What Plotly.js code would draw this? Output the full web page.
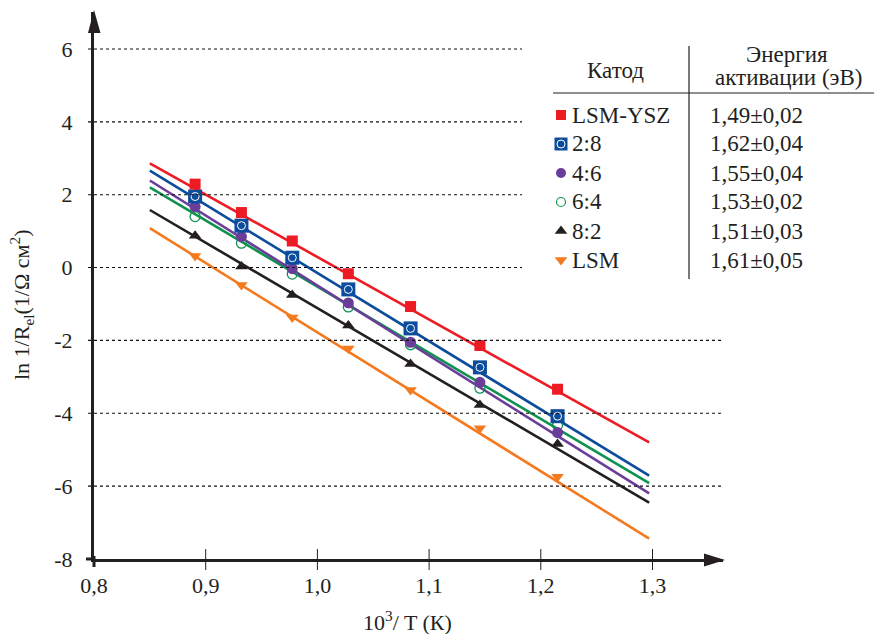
<!DOCTYPE html>
<html>
<head>
<meta charset="utf-8">
<script src="https://cdn.plot.ly/plotly-3.0.1.min.js"></script>
<style>
html,body{margin:0;padding:0;background:#fff;}
#chart{width:874px;height:634px;}
</style>
</head>
<body>
<div id="chart"></div>
<script>
// ---------- data ----------
var invT = [0.8905, 0.932, 0.9775, 1.0277, 1.0834, 1.1455, 1.215];
var lnLSMYSZ = [2.29, 1.51, 0.73, -0.17, -1.07, -2.14, -3.34];
var ln28 = [1.95, 1.15, 0.27, -0.60, -1.67, -2.74, -4.08];
var ln46 = [1.67, 0.85, -0.03, -0.97, -2.05, -3.15, -4.53];
var ln64 = [1.40, 0.67, -0.18, -1.08, -2.12, -3.31, -4.33];
var ln82 = [0.87, 0.03, -0.75, -1.59, -2.65, -3.77, -4.84];
var lnLSM = [0.32, -0.48, -1.37, -2.22, -3.36, -4.41, -5.74];

var fitX = [0.85, 1.297];
var fitLSMYSZ = [2.86, -4.80];
var fit28 = [2.66, -5.71];
var fit46 = [2.39, -6.20];
var fit64 = [2.20, -5.92];
var fit82 = [1.58, -6.45];
var fitLSM = [1.08, -7.44];

var cathodes = ['LSM-YSZ', '2:8', '4:6', '6:4', '8:2', 'LSM'];
var activation = ['1,49±0,02', '1,62±0,04', '1,55±0,04', '1,53±0,02', '1,51±0,03', '1,61±0,05'];

var xTickVals = [0.8, 0.9, 1.0, 1.1, 1.2, 1.3];
var xTickText = ['0,8', '0,9', '1,0', '1,1', '1,2', '1,3'];
var yTickVals = [-8, -6, -4, -2, 0, 2, 4, 6];
var yTickText = ['-8', '-6', '-4', '-2', '0', '2', '4', '6'];

// ---------- styles ----------
var RED = '#ed1c24', BLUE = '#0b4c9c', PURPLE = '#6a3d9a', GREEN = '#0f9150', BLACK = '#231f20', ORANGE = '#f47a20';
var SERIF = 'Liberation Serif';

var L = 94, R = 723, T = 12, B = 559;   // plot area in px
var XMAX = 0.8 + (R - L) / 1117;
var YMAX = -8 + (B - T) / 36.43;
function px(p) { return (p - L) / (R - L); }
function py(p) { return (B - p) / (B - T); }
function dx(v) { return (v - 0.8) / (XMAX - 0.8); }

var series = [
  {y: ln64, fit: fit64, color: GREEN, symbol: 'circle-open', size: 10, lw: 1.3},
  {y: ln46, fit: fit46, color: PURPLE, symbol: 'circle', size: 11, lw: 0},
  {y: ln28, fit: fit28, color: BLUE, symbol: 'square', size: 14, lw: 0},
  {y: lnLSMYSZ, fit: fitLSMYSZ, color: RED, symbol: 'square', size: 11, lw: 0},
  {y: ln82, fit: fit82, color: BLACK, symbol: 'triangle-up', size: 11, lw: 0},
  {y: lnLSM, fit: fitLSM, color: ORANGE, symbol: 'triangle-down', size: 11, lw: 0}
];

var traces = [];
series.forEach(function (s) {
  traces.push({x: fitX, y: s.fit, mode: 'lines', line: {color: s.color, width: 2.6}, hoverinfo: 'skip', showlegend: false});
});
series.forEach(function (s) {
  traces.push({x: invT, y: s.y, mode: 'markers', showlegend: false, cliponaxis: false,
    marker: {symbol: s.symbol, size: s.size, color: s.color, line: {color: s.color, width: s.lw}}});
  if (s.y === ln28) {
    traces.push({x: invT, y: s.y, mode: 'markers', showlegend: false, cliponaxis: false,
      marker: {symbol: 'circle-open', size: 8, color: '#ffffff', line: {color: '#ffffff', width: 1}}});
  }
});

// legend-table markers (pixel axes overlay)
var tblStyles = [
  {color: RED, symbol: 'square', size: 10, lw: 0},
  {color: BLUE, symbol: 'square', size: 13, lw: 0},
  {color: PURPLE, symbol: 'circle', size: 10, lw: 0},
  {color: GREEN, symbol: 'circle-open', size: 9, lw: 1.2},
  {color: BLACK, symbol: 'triangle-up', size: 11, lw: 0},
  {color: ORANGE, symbol: 'triangle-down', size: 11, lw: 0}
];
var rowY0 = 115, rowH = 29, mkX = 561, lblX = 570, valX = 708;
cathodes.forEach(function (c, i) {
  var st = tblStyles[i];
  traces.push({x: [mkX], y: [rowY0 + i * rowH], xaxis: 'x2', yaxis: 'y2', mode: 'markers', showlegend: false, cliponaxis: false,
    marker: {symbol: st.symbol, size: st.size, color: st.color, line: {color: st.color, width: st.lw}}});
  if (i === 1) {
    traces.push({x: [mkX], y: [rowY0 + i * rowH], xaxis: 'x2', yaxis: 'y2', mode: 'markers', showlegend: false, cliponaxis: false,
      marker: {symbol: 'circle-open', size: 8, color: '#fff', line: {color: '#fff', width: 1}}});
  }
});

var shapes = [];
var annotations = [];
yTickVals.forEach(function (v) {
  if (v === -8) {
    shapes.push({type: 'line', xref: 'paper', yref: 'paper', x0: px(86), x1: px(95), y0: 0, y1: 0, line: {color: BLACK, width: 3}});
    return;
  }
  var end = v >= 0 ? 522 : 722;
  shapes.push({type: 'line', xref: 'paper', yref: 'y', x0: px(88), x1: px(end), y0: v, y1: v,
    line: {color: '#111', width: 1.1, dash: 'dot'}});
});
xTickVals.forEach(function (v, i) {
  shapes.push({type: 'line', xref: 'paper', yref: 'paper', x0: dx(v), x1: dx(v),
    y0: py(i === 0 ? 567 : 570), y1: py(i === 0 ? 556 : 549), line: {color: BLACK, width: i === 0 ? 3 : 1}});
});
shapes.push({type: 'path', xref: 'paper', yref: 'paper', fillcolor: BLACK, line: {width: 0},
  path: 'M ' + px(94) + ' ' + py(10) + ' L ' + px(88) + ' ' + py(33) + ' L ' + px(100.5) + ' ' + py(33) + ' Z'});
shapes.push({type: 'path', xref: 'paper', yref: 'paper', fillcolor: BLACK, line: {width: 0},
  path: 'M ' + px(725) + ' ' + py(560) + ' L ' + px(704) + ' ' + py(553.5) + ' L ' + px(704) + ' ' + py(566.5) + ' Z'});
shapes.push({type: 'line', xref: 'paper', yref: 'paper', x0: px(689), x1: px(689), y0: py(46), y1: py(279), line: {color: BLACK, width: 1.2}});
shapes.push({type: 'line', xref: 'paper', yref: 'paper', x0: px(553), x1: px(874), y0: py(93), y1: py(93), line: {color: BLACK, width: 1.2}});

function ann(text, x, y, size, xanchor, extra) {
  var a = {text: text, xref: 'paper', yref: 'paper', x: px(x), y: py(y), xanchor: xanchor || 'center', yanchor: 'middle',
    showarrow: false, font: {family: SERIF, size: size, color: BLACK}};
  if (extra) for (var k in extra) a[k] = extra[k];
  annotations.push(a);
}
ann('Катод', 615, 71, 23);
ann('Энергия', 787, 55, 23);
ann('активации (эВ)', 788, 78, 23);
cathodes.forEach(function (c, i) {
  ann(c, lblX, rowY0 + i * rowH, 23, 'left');
  ann(activation[i], valX, rowY0 + i * rowH, 23, 'left');
});
ann('10<sup>3</sup>/ T (К)', 407, 621, 22);
ann('ln 1/R<sub>el</sub>(1/Ω см<sup>2</sup>)', 21, 305, 22, 'center', {textangle: -90});

var layout = {
  width: 874, height: 634, autosize: false,
  margin: {l: L, r: 874 - R, t: T, b: 634 - B, pad: 0},
  paper_bgcolor: '#fff', plot_bgcolor: '#fff',
  showlegend: false,
  font: {family: SERIF, size: 22, color: BLACK},
  xaxis: {range: [0.8, XMAX], showline: true, linewidth: 3, linecolor: BLACK, showgrid: false, zeroline: false,
    tickmode: 'array', tickvals: xTickVals, ticktext: xTickText, ticks: 'outside', ticklen: 5, tickcolor: 'rgba(0,0,0,0)',
    tickfont: {family: SERIF, size: 22, color: BLACK}},
  yaxis: {range: [-8, YMAX], showline: true, linewidth: 3, linecolor: BLACK, showgrid: false, zeroline: false,
    tickmode: 'array', tickvals: yTickVals, ticktext: yTickText, ticks: 'outside', ticklen: 14, tickcolor: 'rgba(0,0,0,0)',
    tickfont: {family: SERIF, size: 22, color: BLACK}},
  xaxis2: {overlaying: 'x', range: [L, R], visible: false, fixedrange: true},
  yaxis2: {overlaying: 'y', range: [B, T], visible: false, fixedrange: true},
  shapes: shapes,
  annotations: annotations
};

Plotly.newPlot('chart', traces, layout, {displayModeBar: false});
</script>
</body>
</html>
